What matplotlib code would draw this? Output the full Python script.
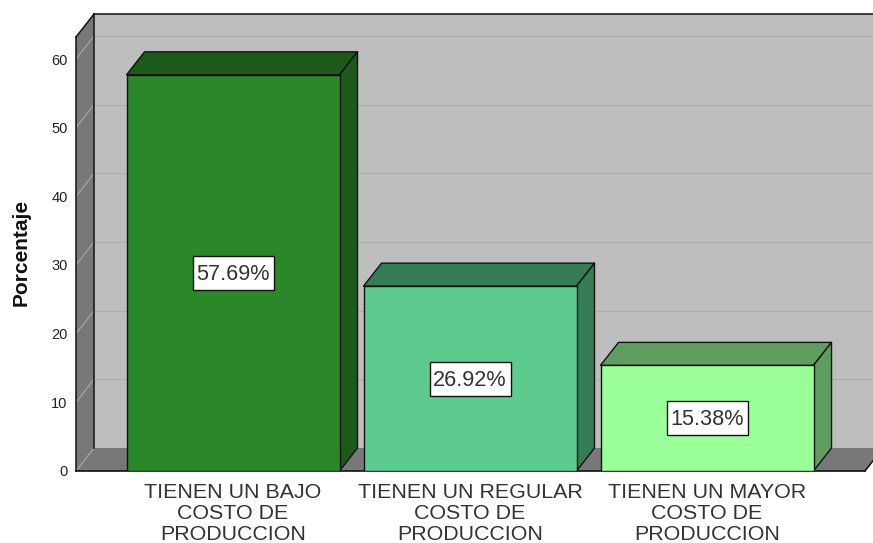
import matplotlib
matplotlib.use('Agg')
import matplotlib.pyplot as plt
from matplotlib.patches import Polygon, Rectangle

# data
categories = ['TIENEN UN BAJO\nCOSTO DE\nPRODUCCION',
              'TIENEN UN REGULAR\nCOSTO DE\nPRODUCCION',
              'TIENEN UN MAYOR\nCOSTO DE\nPRODUCCION']
values = [57.69, 26.92, 15.38]
labels = ['57.69%', '26.92%', '15.38%']
yticks = [0, 10, 20, 30, 40, 50, 60]
front_colors = ['#2A8829', '#5DCB8D', '#9AFF99']
side_colors = ['#1B5A1A', '#367D57', '#5F9E5E']
top_colors = ['#1B5A1A', '#367D57', '#5F9E5E']

W, H = 873, 543
plt.rcParams['font.family'] = ['Liberation Sans', 'DejaVu Sans']

fig = plt.figure(figsize=(W/100, H/100), dpi=100)
# front plane of the 3d box, in pixels
left, right, bottom, top = 76, 865, 471, 59
ax = fig.add_axes([left/W, 1-bottom/H, (right-left)/W, (bottom-top)/H])
ax.set_xlim((left-233)/237, (right-233)/237)
ax.set_ylim(0, 60)
ax.patch.set_visible(False)

# 3d offset in data units
dx = 18/237
dy = 23/6.867
ymax = 66.55
x0, x1 = ax.get_xlim()
edge = '#111111'

def poly(pts, fc, z, ec=edge, lw=1.0):
    ax.add_patch(Polygon(pts, closed=True, fc=fc, ec=ec, lw=lw, zorder=z, clip_on=False, joinstyle='round'))

def line(xs, ys, z=3, color=edge, lw=1.1):
    ax.plot(xs, ys, color=color, lw=lw, zorder=z, clip_on=False)

# back wall, left wall, floor
poly([(x0+dx, dy), (x1+dx, dy), (x1+dx, ymax), (x0+dx, ymax)], '#BEBEBE', 1, ec='none')
poly([(x0, 0), (x0+dx, dy), (x0+dx, ymax), (x0, ymax-dy)], '#787878', 2, ec='none')
poly([(x0, 0), (x1, 0), (x1+dx, dy), (x0+dx, dy)], '#787878', 2, ec='none')

for t in yticks:
    line([x0+dx, x1+dx], [t+dy, t+dy], z=1.5, color='#ADADAD', lw=0.8)
    line([x0, x0+dx], [t, t+dy], z=2.5, color='#A8A8A8', lw=0.8)

# outline of the box
line([x0+dx, x1+dx], [ymax, ymax])
line([x0+dx, x0+dx], [dy, ymax])
line([x0, x0], [0, ymax-dy])
line([x0, x0+dx], [ymax-dy, ymax])
line([x0, x1], [0, 0], lw=1.2)
line([x1, x1+dx], [0, dy])

width = 213/237
xpos = list(range(len(values)))
ax.bar(xpos, values, width=width, color=front_colors, edgecolor=edge, linewidth=1.0, zorder=5)
box_w = 81/237
box_h = 34/6.867
for i, v in enumerate(values):
    a, b = i-width/2, i+width/2
    poly([(a, v), (b, v), (b+dx, v+dy), (a+dx, v+dy)], top_colors[i], 4)
    poly([(b, 0), (b+dx, dy), (b+dx, v+dy), (b, v)], side_colors[i], 4)
    ax.add_patch(Rectangle((i-box_w/2, v/2-box_h/2), box_w, box_h, fc='white', ec=edge, lw=1, zorder=6))
    ax.text(i, v/2-0.25, labels[i], ha='center', va='center', fontsize=15.6, color='#333333', zorder=7)

for s in ax.spines.values():
    s.set_visible(False)
ax.set_yticks(yticks)
ax.tick_params(axis='y', length=0, pad=6, labelsize=10.5, labelcolor='#222222')
ax.set_xticks(xpos)
ax.set_xticklabels(categories, fontsize=15.4, color='#333333', linespacing=1.1)
ax.tick_params(axis='x', length=0, pad=9)
fig.text(21/W, 1-252/H, 'Porcentaje', rotation=90, ha='center', va='center', fontsize=15, fontweight='bold', color='#111111')

fig.savefig('out.png', dpi=100)
